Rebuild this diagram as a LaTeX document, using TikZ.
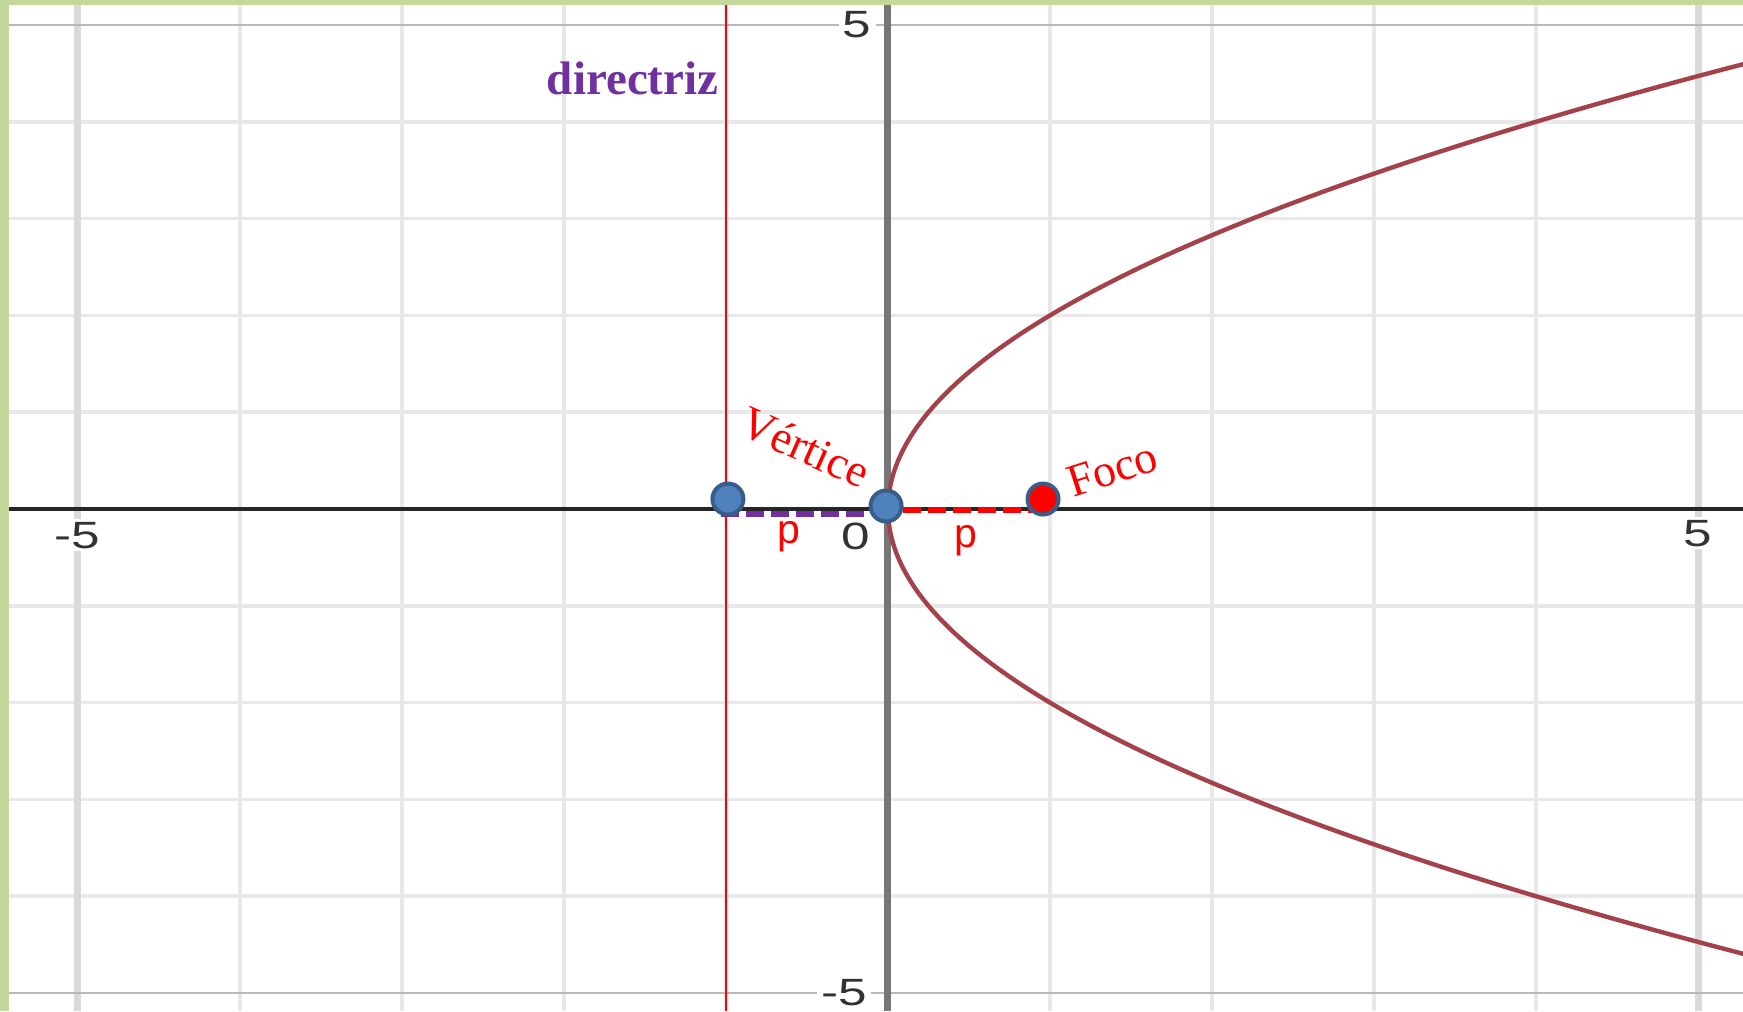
\documentclass[tikz,border=0pt]{standalone}
\usepackage{fontspec}
\setmainfont{Liberation Serif}
\newfontfamily\arialf{Liberation Sans}
\definecolor{bordergreen}{RGB}{197,216,155}
\definecolor{dirpurple}{RGB}{112,48,160}
\definecolor{curvered}{RGB}{163,66,74}
\definecolor{ptblue}{RGB}{79,129,189}
\definecolor{ptedge}{RGB}{56,93,138}
\definecolor{axisgray}{RGB}{118,118,118}
\definecolor{gridgray}{RGB}{232,232,232}
\definecolor{gridmajor}{RGB}{218,218,218}
\definecolor{ticktext}{RGB}{50,50,50}
\tikzset{
  gridline/.style={draw=gridgray, line width=1.8pt},
  gridmajorline/.style={draw=gridmajor, line width=3.5pt},
  gridedge/.style={draw=gray!55, line width=1pt},
  yaxisline/.style={draw=axisgray, line width=3.5pt},
  xaxisline/.style={draw=black!85, line width=1.6pt},
  dirline/.style={draw=red, line width=0.8pt},
  curveline/.style={draw=curvered, line width=2.2pt},
  ticklabel/.style={font=\arialf\fontsize{19}{20}\selectfont, text=ticktext, fill=white, inner sep=1.5pt, xscale=1.35},
  plabel/.style={font=\arialf\fontsize{20.5}{21}\selectfont, text=red, inner sep=0pt},
  biglabel/.style={font=\fontsize{23}{24}\selectfont, text=red, inner sep=0pt},
  ptdot/.style={circle, draw=ptedge, line width=2pt, fill=ptblue, minimum size=15.5pt, inner sep=0pt},
  focdot/.style={circle, draw=ptedge, line width=2pt, fill=red, minimum size=15.5pt, inner sep=0pt},
  purpdash/.style={draw=dirpurple, line width=2.8pt, dash pattern=on 9pt off 3.5pt},
  reddash/.style={draw=red, line width=2.8pt, dash pattern=on 9pt off 3.5pt}
}
\begin{document}
\begin{tikzpicture}[x=81pt,y=48.4pt]
\def\xl{-5.4815}\def\xr{5.2778}\def\yb{-5.186}\def\yt{5.2583}
\useasboundingbox (\xl,\yb) rectangle (\xr,\yt);
\clip (\xl,\yb) rectangle (\xr,\yt);
\fill[white] (\xl,\yb) rectangle (\xr,\yt);
% grid
\foreach \i in {-4,...,4} \draw[gridline] (\i,\yb) -- (\i,\yt);
\foreach \j in {-4,...,4} \draw[gridline] (\xl,\j) -- (\xr,\j);
\foreach \i in {-5,5} \draw[gridmajorline] (\i,\yb) -- (\i,\yt);
\foreach \j in {-5,5} \draw[gridedge] (\xl,\j) -- (\xr,\j);
% axes
\draw[yaxisline] (0,\yb) -- (0,\yt);
\draw[xaxisline] (\xl,0) -- (\xr,0);
% tick labels
\node[ticklabel] (tx1) at (-5.006,-0.27) {-5};
\node[ticklabel] (tx2) at (5.0,-0.25) {5};
\node[ticklabel] (tx0) at (-0.2,-0.28) {0};
\node[ticklabel] (ty1) at (-0.19,5.0) {5};
\node[ticklabel] (ty2) at (-0.27,-5.0) {-5};
% directrix
\draw[dirline] (-1,\yb) -- (-1,\yt);
% parabola y^2 = 4x
\draw[curveline] plot[domain=-4.8:4.8, samples=241, variable=\t, smooth] ({\t*\t/4},{\t});
% dashed segments
\coordinate (ds) at (-1.03,-0.052);
\coordinate (de) at (-0.11,-0.052);
\coordinate (rs) at (0.09,-0.012);
\coordinate (re) at (0.91,-0.012);
\draw[purpdash] (ds) -- (de);
\draw[reddash] (rs) -- (re);
% points
\node[ptdot] (D) at (-0.988,0.103) {};
\node[ptdot] (V) at (-0.012,0.031) {};
\node[focdot] (F) at (0.957,0.103) {};
% labels
\node[font=\bfseries\fontsize{23.5}{25}\selectfont, text=dirpurple, inner sep=0pt, anchor=base east] (dir) at (-1.045,4.28) {directriz};
\node[biglabel, rotate=-24] (vert) at (-0.51,0.64) {Vértice};
\node[biglabel, rotate=18] (foco) at (1.385,0.41) {Foco};
\node[plabel] (p1) at (-0.611,-0.289) {p};
\node[plabel] (p2) at (0.481,-0.33) {p};
% border
\fill[bordergreen] (\xl,\yb) rectangle (\xl+0.0556,\yt);
\fill[bordergreen] (\xl,\yt-0.0517) rectangle (\xr,\yt);
\end{tikzpicture}
\end{document}
